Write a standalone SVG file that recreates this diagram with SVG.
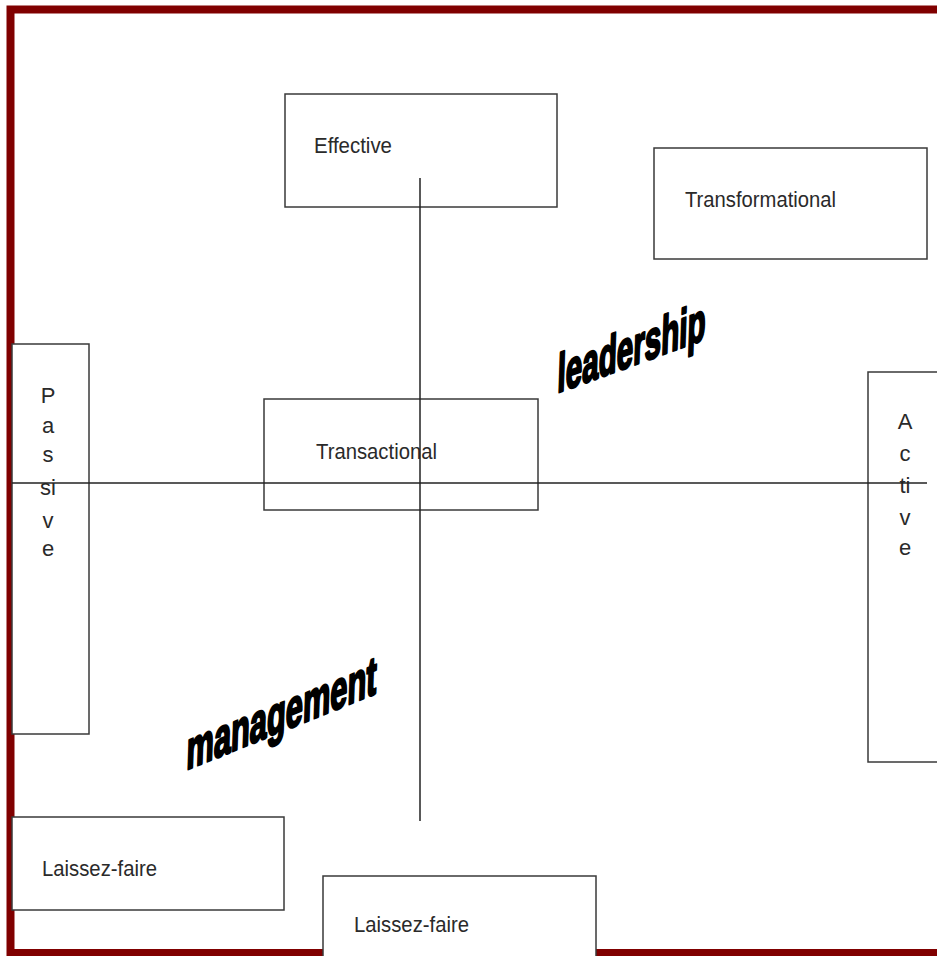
<svg xmlns="http://www.w3.org/2000/svg" width="937" height="956" viewBox="0 0 937 956">
<style>
.box{fill:#fff;stroke:#3a3a3a;stroke-width:1.5}
.lbl{font-family:"Liberation Sans",Arial,sans-serif;font-size:22px;fill:#2a2a2a}
.vl{font-family:"Liberation Sans",Arial,sans-serif;font-size:22px;fill:#2a2a2a;text-anchor:middle}
.axis{stroke:#222;stroke-width:1.5;fill:none}
.art{font-family:"Liberation Sans",Arial,sans-serif;font-weight:bold;fill:#000;stroke:#000;stroke-width:2.6;stroke-linejoin:round}
</style>
<rect x="10.5" y="9.5" width="1000" height="943.5" fill="#fff" stroke="#800000" stroke-width="8"/>
<g id="effective"><rect class="box" x="285" y="94" width="272" height="113"/><text class="lbl" x="314" y="153" textLength="78" lengthAdjust="spacingAndGlyphs">Effective</text></g>
<g id="transformational"><rect class="box" x="654" y="148" width="273" height="111"/><text class="lbl" x="685" y="207" textLength="151" lengthAdjust="spacingAndGlyphs">Transformational</text></g>
<g id="transactional"><rect class="box" x="264" y="399" width="274" height="111"/><text class="lbl" x="316" y="459" textLength="121" lengthAdjust="spacingAndGlyphs">Transactional</text></g>
<g id="passive"><rect class="box" x="12" y="344" width="77" height="390"/>
<text class="vl" x="48" y="403">P</text><text class="vl" x="48" y="433">a</text><text class="vl" x="48" y="462">s</text><text class="vl" x="48" y="495">si</text><text class="vl" x="48" y="528">v</text><text class="vl" x="48" y="556">e</text></g>
<g id="active"><rect class="box" x="868" y="372" width="90" height="390"/>
<text class="vl" x="905" y="429">A</text><text class="vl" x="905" y="461">c</text><text class="vl" x="905" y="493">ti</text><text class="vl" x="905" y="525">v</text><text class="vl" x="905" y="555">e</text></g>
<g id="laissez1"><rect class="box" x="12" y="817" width="272" height="93"/><text class="lbl" x="42" y="876" textLength="115" lengthAdjust="spacingAndGlyphs">Laissez-faire</text></g>
<g id="laissez2"><rect class="box" x="323" y="876" width="273" height="100"/><text class="lbl" x="354" y="932" textLength="115" lengthAdjust="spacingAndGlyphs">Laissez-faire</text></g>
<g id="connectors">
<line class="axis" x1="12" y1="483" x2="927" y2="483"/>
<line class="axis" x1="420" y1="178" x2="420" y2="821"/>
</g>
<g id="leadership"><text class="art" font-size="54" transform="translate(557,393) skewY(-20) skewX(-2)" textLength="148" lengthAdjust="spacingAndGlyphs">leadership</text></g>
<g id="management"><text class="art" font-size="54" transform="translate(186,770) skewY(-22) skewX(-2)" textLength="190" lengthAdjust="spacingAndGlyphs">management</text></g>
</svg>
